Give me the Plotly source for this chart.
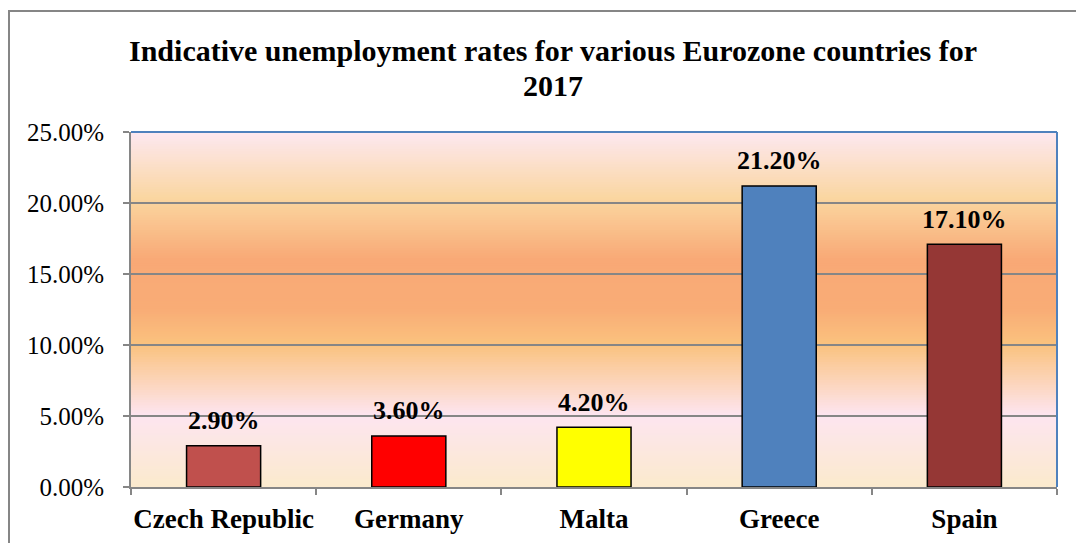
import plotly.graph_objects as go

# Unemployment rates (2017)
countries = ["Czech Republic", "Germany", "Malta", "Greece", "Spain"]
rates = [0.029, 0.036, 0.042, 0.212, 0.171]
bar_colors = ["#C0504D", "#FF0000", "#FFFF00", "#4F81BD", "#953735"]
title_lines = ["Indicative unemployment rates for various Eurozone countries for", "2017"]

W, H = 1076, 543
L, R, T, B = 131, 19, 132, 56
plot_w = W - L - R
plot_h = H - T - B
SERIF = "Liberation Serif"

fig = go.Figure(
    go.Bar(
        x=countries,
        y=rates,
        width=0.4,
        marker=dict(color=bar_colors, line=dict(color="#000000", width=1.5)),
        cliponaxis=False,
    )
)

# Value labels above each bar
for c, v in zip(countries, rates):
    fig.add_annotation(
        x=c, y=v, text=f"<b>{v:.2%}</b>", showarrow=False,
        yanchor="middle", yshift=25,
        font=dict(family=SERIF, size=26, color="#000000"),
    )

# Two-line chart title
for line, ypx in zip(title_lines, [50, 86]):
    fig.add_annotation(
        xref="paper", yref="paper",
        x=(553 - L) / plot_w, y=(H - B - ypx) / plot_h,
        text=f"<b>{line}</b>", showarrow=False,
        xanchor="center", yanchor="middle",
        font=dict(family=SERIF, size=30, color="#000000"),
    )

# Vertical gradient fill of the plot area (top -> bottom)
stops = [
    (0.00, (253, 232, 242)),
    (0.19, (250, 214, 160)),
    (0.36, (249, 169, 118)),
    (0.50, (249, 172, 118)),
    (0.60, (250, 194, 126)),
    (0.80, (253, 229, 240)),
    (1.00, (251, 234, 205)),
]


def grad_color(t):
    for (t0, c0), (t1, c1) in zip(stops[:-1], stops[1:]):
        if t0 <= t <= t1:
            f = (t - t0) / (t1 - t0) if t1 > t0 else 0
            return "rgb({},{},{})".format(*[round(a + (b - a) * f) for a, b in zip(c0, c1)])
    return "rgb({},{},{})".format(*stops[-1][1])


shapes = []
n = 140
for i in range(n):
    t = (i + 0.5) / n
    shapes.append(dict(
        type="rect", xref="paper", yref="paper",
        x0=0, x1=1, y0=1 - (i + 1) / n - 0.002, y1=1 - i / n + 0.002,
        fillcolor=grad_color(t), line=dict(width=0), layer="below",
    ))

# Blue border on top and right of the plot area
shapes.append(dict(type="line", xref="paper", yref="paper", x0=0, x1=1, y0=1, y1=1,
                   line=dict(color="#4F81BD", width=2), layer="above"))
shapes.append(dict(type="line", xref="paper", yref="paper", x0=1, x1=1, y0=0, y1=1,
                   line=dict(color="#4F81BD", width=2), layer="above"))


def px_x(px):
    return (px - L) / plot_w


def px_y(py):
    return (H - B - py) / plot_h


# Outer chart frame
shapes.append(dict(type="rect", xref="paper", yref="paper",
                   x0=px_x(9), x1=px_x(1090), y0=px_y(560), y1=px_y(11),
                   line=dict(color="#868686", width=2), fillcolor="rgba(0,0,0,0)", layer="above"))

fig.update_layout(
    width=W, height=H,
    margin=dict(l=L, r=R, t=T, b=B, autoexpand=False),
    paper_bgcolor="#FFFFFF",
    plot_bgcolor="#FFFFFF",
    showlegend=False,
    bargap=0.6,
    shapes=shapes,
    font=dict(family=SERIF, color="#000000"),
)

fig.update_yaxes(
    range=[0, 0.25], dtick=0.05, tickformat=".2%",
    showgrid=True, gridcolor="#868686", gridwidth=1.5,
    showline=True, linecolor="#868686", linewidth=2,
    ticks="outside", ticklen=6, tickcolor="#868686", tickwidth=1.5,
    tickfont=dict(family=SERIF, size=25, color="#000000"),
    ticklabelstandoff=14,
    zeroline=False, automargin=False,
)

fig.update_xaxes(
    showline=True, linecolor="#868686", linewidth=2,
    ticks="outside", ticklen=6, tickcolor="#868686", tickwidth=1.5,
    tickson="boundaries",
    tickfont=dict(family=SERIF, size=27, color="#000000"),
    tickvals=countries,
    ticktext=[f"<b>{c}</b>" for c in countries],
    tickangle=0,
    ticklabelstandoff=7,
    showgrid=False, automargin=False,
)

fig.write_html("out.html")
